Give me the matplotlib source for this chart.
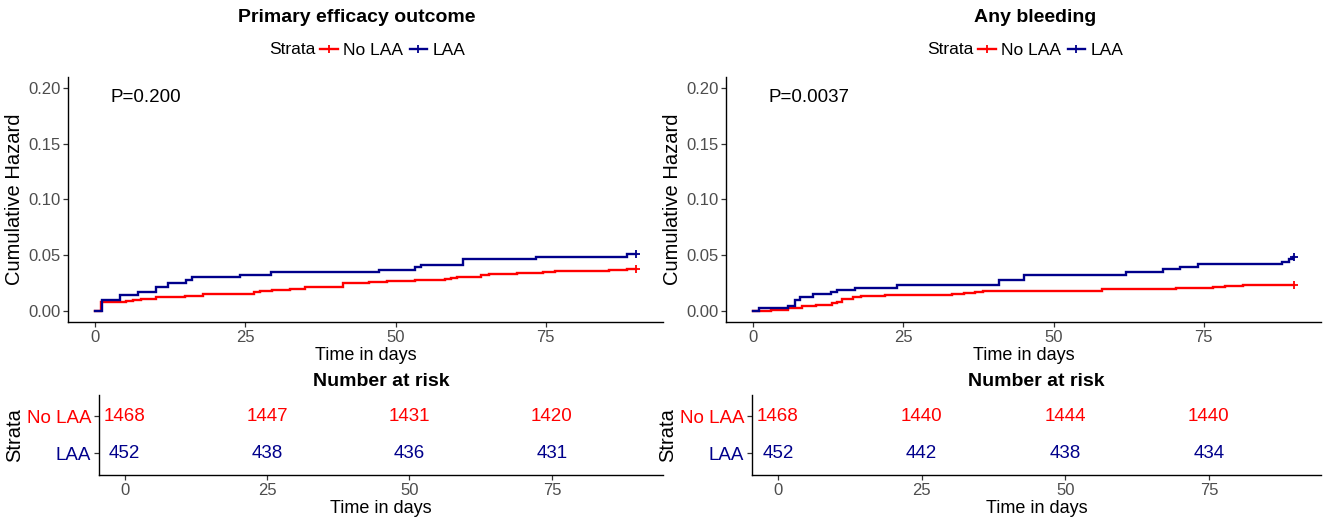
import matplotlib
matplotlib.use('Agg')
import matplotlib.pyplot as plt
from matplotlib.lines import Line2D

plt.rcParams['font.family'] = ['Liberation Sans', 'DejaVu Sans']

# ---------------- data ----------------
titles = ["Primary efficacy outcome", "Any bleeding"]
p_values = ["P=0.200", "P=0.0037"]
strata = ["No LAA", "LAA"]
end_time = 90

# Primary efficacy outcome
eff_nolaa_t = [0, 1, 5.2, 6.3, 7.7, 10.1, 15, 18, 26.4, 27.5, 29.4, 32.4, 34.9, 37.1,
               41.3, 45.5, 48.5, 53.2, 58.2, 59.3, 60.2, 64.3, 65.5, 70.2, 74.6, 76.6,
               79.6, 85.5, 88.5]
eff_nolaa_h = [0, 0.0078, 0.0090, 0.0101, 0.0110, 0.0125, 0.0133, 0.0148, 0.0168, 0.0177,
               0.0183, 0.0197, 0.0210, 0.0218, 0.0248, 0.0257, 0.0266, 0.0278, 0.0290,
               0.0297, 0.0303, 0.0322, 0.0330, 0.0338, 0.0347, 0.0354, 0.0360, 0.0366,
               0.0374]
eff_laa_t = [0, 1.1, 4.1, 7.1, 10.1, 12.1, 15.2, 16.2, 24.2, 29.3, 47.3, 53.3, 54.3,
             61.3, 73.4, 88.5]
eff_laa_h = [0, 0.0096, 0.0143, 0.0168, 0.0210, 0.0254, 0.0275, 0.0300, 0.0325, 0.0347,
             0.0370, 0.0390, 0.0415, 0.0464, 0.0488, 0.0508]

# Any bleeding
bld_nolaa_t = [0, 3, 5.8, 8.1, 10.5, 13.1, 13.9, 14.8, 16.6, 18, 21.9, 27, 33.1, 35.1,
               37, 38.3, 58, 63.4, 70.4, 76.5, 78.5, 81.5]
bld_nolaa_h = [0, 0.0010, 0.0027, 0.0042, 0.0057, 0.0070, 0.0084, 0.0108, 0.0123, 0.0135,
               0.0140, 0.0145, 0.0150, 0.0160, 0.0170, 0.0178, 0.0192, 0.0197, 0.0206,
               0.0213, 0.0220, 0.0228]
bld_laa_t = [0, 1, 5.8, 6.9, 7.8, 10, 12.9, 13.9, 17, 24, 41, 45.1, 62.1, 68.2, 71,
             74.1, 88, 89.2, 89.8]
bld_laa_h = [0, 0.0024, 0.0045, 0.0099, 0.0123, 0.0150, 0.0168, 0.0188, 0.0209, 0.0233,
             0.0275, 0.0325, 0.0350, 0.0374, 0.0395, 0.0419, 0.0443, 0.0466, 0.0480]

risk_times = [0, 25, 50, 75]
eff_risk_nolaa = [1468, 1447, 1431, 1420]
eff_risk_laa = [452, 438, 436, 431]
bld_risk_nolaa = [1468, 1440, 1444, 1440]
bld_risk_laa = [452, 442, 438, 434]

x_ticks = [0, 25, 50, 75]
y_ticks = [0.00, 0.05, 0.10, 0.15, 0.20]

# ---------------- style ----------------
RED = '#FF0000'
BLUE = '#00008B'
TICKC = '#4D4D4D'
W, H = 1323, 521

fig = plt.figure(figsize=(W / 100, H / 100), dpi=100)


def rect(l, t, r, b):
    return [l / W, 1 - b / H, (r - l) / W, (b - t) / H]


def style_axes(ax):
    for s in ['top', 'right']:
        ax.spines[s].set_visible(False)
    for s in ['left', 'bottom']:
        ax.spines[s].set_linewidth(1.0)
        ax.spines[s].set_color('black')
    ax.tick_params(axis='both', length=3.5, width=0.9, color='#333333',
                   labelsize=12, labelcolor=TICKC, pad=2)


panels = [
    dict(title=titles[0], p=p_values[0],
         curves=[(eff_nolaa_t, eff_nolaa_h, RED), (eff_laa_t, eff_laa_h, BLUE)],
         risk=[eff_risk_nolaa, eff_risk_laa],
         top=(68, 663), bot=(99, 663), title_x=357),
    dict(title=titles[1], p=p_values[1],
         curves=[(bld_nolaa_t, bld_nolaa_h, RED), (bld_laa_t, bld_laa_h, BLUE)],
         risk=[bld_risk_nolaa, bld_risk_laa],
         top=(726, 1321), bot=(752, 1321), title_x=1035),
]

fig.canvas.draw()
renderer = fig.canvas.get_renderer()

for pan in panels:
    l, r = pan['top']
    ax = fig.add_axes(rect(l, 77, r, 322))
    style_axes(ax)
    for t, h, c in pan['curves']:
        tt = list(t) + [end_time]
        hh = list(h) + [h[-1]]
        ax.step(tt, hh, where='post', color=c, lw=1.7, solid_joinstyle='miter')
        ax.plot([end_time], [h[-1]], marker='+', color=c, ms=6, mew=1.3)
    ax.set_xlim(-4.5, 94.5)
    ax.set_ylim(-0.01, 0.21)
    ax.set_xticks(x_ticks)
    ax.set_yticks(y_ticks)
    ax.set_yticklabels([f"{v:.2f}" for v in y_ticks])
    ax.set_xlabel("Time in days", fontsize=13, labelpad=2)
    ax.set_ylabel("Cumulative Hazard", fontsize=14.5, labelpad=3)
    ax.text(2.5, 0.192, pan['p'], fontsize=13.5, ha='left', va='center', color='black')

    fig.text(pan['title_x'] / W, 1 - 18 / H, pan['title'], fontsize=14, fontweight='bold',
             ha='center', va='center')

    # legend
    handles = [Line2D([], [], color=RED, lw=1.7, marker='+', ms=6, mew=1.3),
               Line2D([], [], color=BLUE, lw=1.7, marker='+', ms=6, mew=1.3)]
    strata_txt = fig.text(0, 0, "Strata", fontsize=12.5, ha='right', va='center')
    sw = strata_txt.get_window_extent(renderer).width
    cx = (l + r) / 2
    leg = fig.legend(handles, strata, loc='center', ncol=2, frameon=False,
                     bbox_to_anchor=((cx + sw / 2 + 4) / W, 1 - 50 / H),
                     fontsize=12.5, handlelength=1.0, handletextpad=0.3,
                     columnspacing=0.4, borderpad=0, borderaxespad=0)
    fig.canvas.draw()
    bb = leg.get_window_extent(renderer)
    strata_txt.set_position(((bb.x0 - 5) / W, 1 - 50 / H))

    # risk table
    bl, br = pan['bot']
    rax = fig.add_axes(rect(bl, 395, br, 475))
    style_axes(rax)
    rax.set_xlim(-4.5, 94.5)
    rax.set_ylim(0.405, 2.57)
    rax.set_xticks(x_ticks)
    rax.set_yticks([2, 1])
    rax.set_yticklabels(strata, fontsize=13.5)
    for lab, c in zip(rax.get_yticklabels(), [RED, BLUE]):
        lab.set_color(c)
    for vals, yy, c in zip(pan['risk'], [2, 1], [RED, BLUE]):
        for tx, v in zip(risk_times, vals):
            rax.text(tx, yy, str(v), color=c, fontsize=13.5, ha='center', va='center')
    rax.set_xlabel("Time in days", fontsize=13, labelpad=2)
    rax.set_ylabel("Strata", fontsize=14.5, labelpad=2)
    fig.text(((bl + br) / 2) / W, 1 - 382 / H, "Number at risk", fontsize=14,
             fontweight='bold', ha='center', va='center')

fig.savefig('out.png', dpi=100)
